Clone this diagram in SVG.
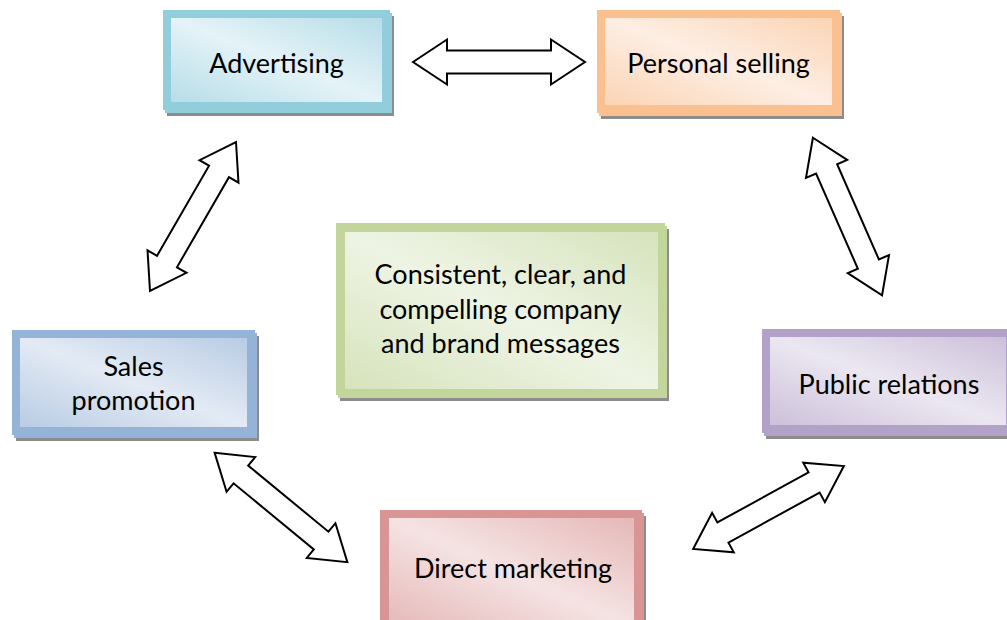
<svg xmlns="http://www.w3.org/2000/svg" width="1007" height="620" viewBox="0 0 1007 620">
<style>
  .lbl { font-family: Lato, "Liberation Sans", sans-serif; font-size: 27px; fill: #000; text-anchor: middle; }
  .shadow { fill: #8c8c8c; }
  .arrow { fill: #fff; stroke: #000; stroke-width: 2; stroke-linejoin: miter; }
</style>
<defs>
  <linearGradient id="gBlue" x1="0" y1="1" x2="1" y2="0">
    <stop offset="0" stop-color="#b7dde8"/><stop offset="0.5" stop-color="#e4f3f7"/><stop offset="1" stop-color="#b7dde8"/>
  </linearGradient>
  <linearGradient id="gOrange" x1="0" y1="1" x2="1" y2="0">
    <stop offset="0" stop-color="#fbd4b4"/><stop offset="0.5" stop-color="#fdeee3"/><stop offset="1" stop-color="#fbd4b4"/>
  </linearGradient>
  <linearGradient id="gGreen" x1="0" y1="1" x2="1" y2="0">
    <stop offset="0" stop-color="#d6e3bc"/><stop offset="0.5" stop-color="#eef4e4"/><stop offset="1" stop-color="#d6e3bc"/>
  </linearGradient>
  <linearGradient id="gSteel" x1="0" y1="1" x2="1" y2="0">
    <stop offset="0" stop-color="#b8cce4"/><stop offset="0.5" stop-color="#e3eaf4"/><stop offset="1" stop-color="#b8cce4"/>
  </linearGradient>
  <linearGradient id="gPurple" x1="0" y1="1" x2="1" y2="0">
    <stop offset="0" stop-color="#ccc0da"/><stop offset="0.5" stop-color="#ebe7f1"/><stop offset="1" stop-color="#ccc0da"/>
  </linearGradient>
  <linearGradient id="gRed" x1="0" y1="1" x2="1" y2="0">
    <stop offset="0" stop-color="#e5b8b7"/><stop offset="0.5" stop-color="#f5e3e3"/><stop offset="1" stop-color="#e5b8b7"/>
  </linearGradient>
  <path id="dblArrow" d="M-86,0 L-52,-22.5 L-52,-11.5 L52,-11.5 L52,-22.5 L86,0 L52,22.5 L52,11.5 L-52,11.5 L-52,22.5 Z"/>
</defs>

<g id="advertising">
  <rect class="shadow" x="167" y="16" width="227" height="100"/>
  <rect x="165" y="13" width="227" height="100" fill="#92cddc"/>
  <rect x="163" y="10" width="227" height="100" fill="#92cddc"/>
  <rect x="171" y="18" width="211" height="84" fill="url(#gBlue)"/>
  <text class="lbl" x="276.5" y="73">Advertising</text>
</g>

<g id="personal-selling">
  <rect class="shadow" x="601" y="16" width="243" height="103"/>
  <rect x="599" y="13" width="243" height="103" fill="#fac090"/>
  <rect x="597" y="10" width="243" height="103" fill="#fac090"/>
  <rect x="605" y="18" width="227" height="87" fill="url(#gOrange)"/>
  <text class="lbl" x="718.5" y="73">Personal selling</text>
</g>

<g id="core-message">
  <rect class="shadow" x="340" y="229" width="329" height="172"/>
  <rect x="338" y="226" width="329" height="172" fill="#c2d69b"/>
  <rect x="336" y="223" width="329" height="172" fill="#c2d69b"/>
  <rect x="345" y="232" width="313" height="157" fill="url(#gGreen)"/>
  <text class="lbl" x="500.5" y="284">Consistent, clear, and</text>
  <text class="lbl" x="500.5" y="319">compelling company</text>
  <text class="lbl" x="500.5" y="353">and brand messages</text>
</g>

<g id="sales-promotion">
  <rect class="shadow" x="16" y="336" width="243" height="105"/>
  <rect x="14" y="333" width="243" height="105" fill="#95b3d7"/>
  <rect x="12" y="330" width="243" height="105" fill="#95b3d7"/>
  <rect x="20" y="338" width="227" height="89" fill="url(#gSteel)"/>
  <text class="lbl" x="133.5" y="376">Sales</text>
  <text class="lbl" x="133.5" y="410">promotion</text>
</g>

<g id="public-relations">
  <rect class="shadow" x="766" y="335" width="252" height="104"/>
  <rect x="764" y="332" width="252" height="104" fill="#b2a2c7"/>
  <rect x="762" y="329" width="252" height="104" fill="#b2a2c7"/>
  <rect x="770" y="337" width="236" height="88" fill="url(#gPurple)"/>
  <text class="lbl" x="889" y="394">Public relations</text>
</g>

<g id="direct-marketing">
  <rect class="shadow" x="384" y="516" width="262" height="120"/>
  <rect x="382" y="513" width="262" height="120" fill="#d99594"/>
  <rect x="380" y="510" width="262" height="120" fill="#d99594"/>
  <rect x="389" y="518" width="245" height="110" fill="url(#gRed)"/>
  <text class="lbl" x="513" y="578">Direct marketing</text>
</g>

<g id="connectors">
  <use href="#dblArrow" class="arrow" transform="translate(499,62)"/>
  <use href="#dblArrow" class="arrow" transform="translate(193,216.5) rotate(-60)"/>
  <use href="#dblArrow" class="arrow" transform="translate(847.5,216.5) rotate(66.3)"/>
  <use href="#dblArrow" class="arrow" transform="translate(281,507.5) rotate(39.5)"/>
  <use href="#dblArrow" class="arrow" transform="translate(768.5,507.5) rotate(-28.8)"/>
</g>
</svg>
